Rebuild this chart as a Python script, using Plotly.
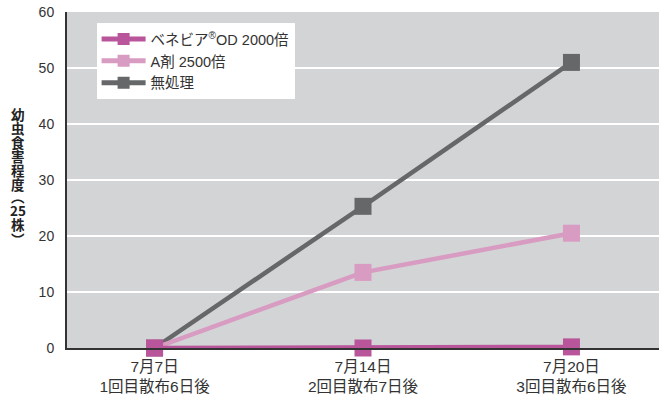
import plotly.graph_objects as go

categories = ["7月7日<br>1回目散布6日後", "7月14日<br>2回目散布7日後", "7月20日<br>3回目散布6日後"]
benevia = [0, 0, 0.2]
a_agent = [0, 13.5, 20.5]
untreated = [0, 25.3, 51]
series_names = ["ベネビア<sup>®</sup>OD 2000倍", "A剤 2500倍", "無処理"]
colors = ["#b9559a", "#d89bc1", "#666769"]
y_ticks = [0, 10, 20, 30, 40, 50, 60]
y_title_chars = ["幼", "虫", "食", "害", "程", "度", "︵", "25", "株", "︶"]

FONT = "Liberation Sans, Noto Sans CJK JP, sans-serif"

fig = go.Figure()
for name, vals, col in [(series_names[2], untreated, colors[2]),
                        (series_names[1], a_agent, colors[1]),
                        (series_names[0], benevia, colors[0])]:
    fig.add_trace(go.Scatter(
        x=list(range(len(categories))), y=vals, name=name,
        mode="lines+markers",
        line=dict(color=col, width=4.5),
        marker=dict(symbol="square", size=17, color=col),
        cliponaxis=False,
    ))

# vertical stacked y-axis title, one character per annotation
title_px = [114, 128, 142, 156, 170, 184, 196, 210, 224, 239]
plot_top, plot_h = 12, 336
annotations = []
for ch, ypx in zip(y_title_chars, title_px):
    yp = 1 - (ypx - plot_top) / plot_h
    annotations.append(dict(
        text=ch, xref="paper", yref="paper", x=-(67 - 18) / 592, y=yp,
        xanchor="center", yanchor="middle", showarrow=False,
        font=dict(size=13.5, color="#222222", family="Noto Sans CJK JP, sans-serif",
                  weight="bold"),
        borderpad=0,
    ))

fig.update_layout(
    width=659, height=398,
    margin=dict(l=67, r=0, t=12, b=50),
    paper_bgcolor="white",
    plot_bgcolor="#d3d4d6",
    font=dict(family=FONT, size=14, color="#333333"),
    showlegend=True,
    legend=dict(
        x=0.05, y=0.967, xanchor="left", yanchor="top",
        bgcolor="white", traceorder="reversed",
        font=dict(size=14.5, color="#333333"),
        itemsizing="constant", tracegroupgap=0, itemwidth=44,
    ),
    xaxis=dict(
        tickmode="array", tickvals=list(range(len(categories))), ticktext=categories,
        range=[-0.42, 2.42], showgrid=False, zeroline=False,
        showline=True, linecolor="#333333", linewidth=2, ticks="",
        tickfont=dict(size=15.5, color="#333333"), ticklabelstandoff=3,
    ),
    yaxis=dict(
        range=[0, 60], tickvals=y_ticks, showgrid=True, gridcolor="white", gridwidth=2,
        zeroline=False, showline=True, linecolor="#333333", linewidth=2, ticks="",
        tickfont=dict(size=14, color="#333333"), ticklabelstandoff=8,
    ),
    annotations=annotations,
)

fig.write_html("out.html")
